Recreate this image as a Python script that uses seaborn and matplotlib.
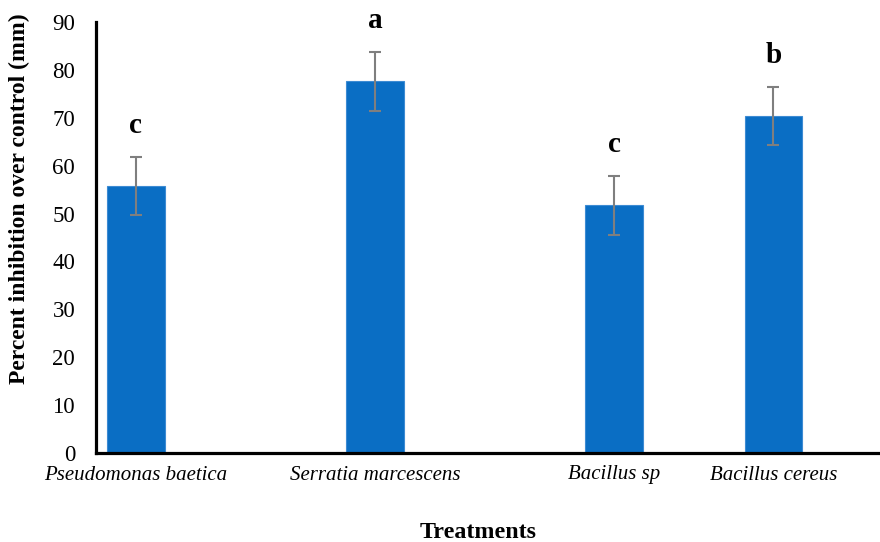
import matplotlib
matplotlib.use("Agg")
import matplotlib.pyplot as plt
import seaborn as sns
import pandas as pd

# Percent inhibition of the pathogen by each bacterial treatment
treatments = ["Pseudomonas baetica", "Serratia marcescens", "Bacillus sp", "Bacillus cereus"]
inhibition = [55.8, 77.6, 51.7, 70.4]
std_err = [6.1, 6.1, 6.1, 6.1]
letters = ["c", "a", "c", "b"]
y_ticks = [0, 10, 20, 30, 40, 50, 60, 70, 80, 90]

# Category slots along the x axis (empty slots leave gaps between bars)
slots = [0, 3, 6, 8]
n_slots = 10

sns.set_theme(style="white")
plt.rcParams["font.family"] = ["Liberation Serif", "DejaVu Serif"]
plt.rcParams["text.color"] = "black"

df = pd.DataFrame({"Treatment": treatments, "Inhibition": inhibition})

order = [" " * (i + 1) for i in range(n_slots)]
for name, s in zip(treatments, slots):
    order[s] = name

fig = plt.figure(figsize=(8.8, 5.42), dpi=100)
ax = fig.add_axes([96 / 880, 1 - 453 / 542, 1 - 96 / 880, (453 - 22) / 542])

sns.barplot(data=df, x="Treatment", y="Inhibition", order=order,
            color="#0a6ec4", saturation=1, width=0.725, errorbar=None,
            edgecolor="#3d8bd3", linewidth=0.8, ax=ax)

# Error bars and significance letters at each bar centre
bars = sorted(ax.patches, key=lambda p: p.get_x())
centers = [p.get_x() + p.get_width() / 2 for p in bars]
ax.errorbar(centers, inhibition, yerr=std_err, fmt="none", ecolor="#7f7f7f",
            elinewidth=1.5, capsize=4.3, capthick=1.5, zorder=3)
for cx, m, e, lab in zip(centers, inhibition, std_err, letters):
    ax.text(cx, m + e + 5.0, lab, ha="center", va="baseline",
            fontsize=21, fontweight="bold", color="black")

ax.set_xlim(-0.5, -0.5 + (880 - 96) / 79.7)
ax.set_ylim(0, 90)
ax.set_yticks(y_ticks)
ax.set_xticks(slots)
ax.set_xticklabels(treatments, fontstyle="italic", fontsize=15)
ax.tick_params(axis="y", length=0, pad=15, labelsize=16.5, colors="black")
ax.tick_params(axis="x", length=0, pad=9, colors="black")
ax.set_xlabel("")
ax.set_ylabel("")

for side in ["top", "right"]:
    ax.spines[side].set_visible(False)
for side in ["left", "bottom"]:
    ax.spines[side].set_color("black")
    ax.spines[side].set_linewidth(2.3)

fig.text(19 / 880, 1 - 199 / 542, "Percent inhibition over control (mm)",
         rotation=90, ha="center", va="center", fontsize=17, fontweight="bold",
         color="black")
fig.text(478 / 880, 1 - 532 / 542, "Treatments", ha="center", va="center",
         fontsize=17.3, fontweight="bold", color="black")

fig.savefig("out.png", dpi=100)
